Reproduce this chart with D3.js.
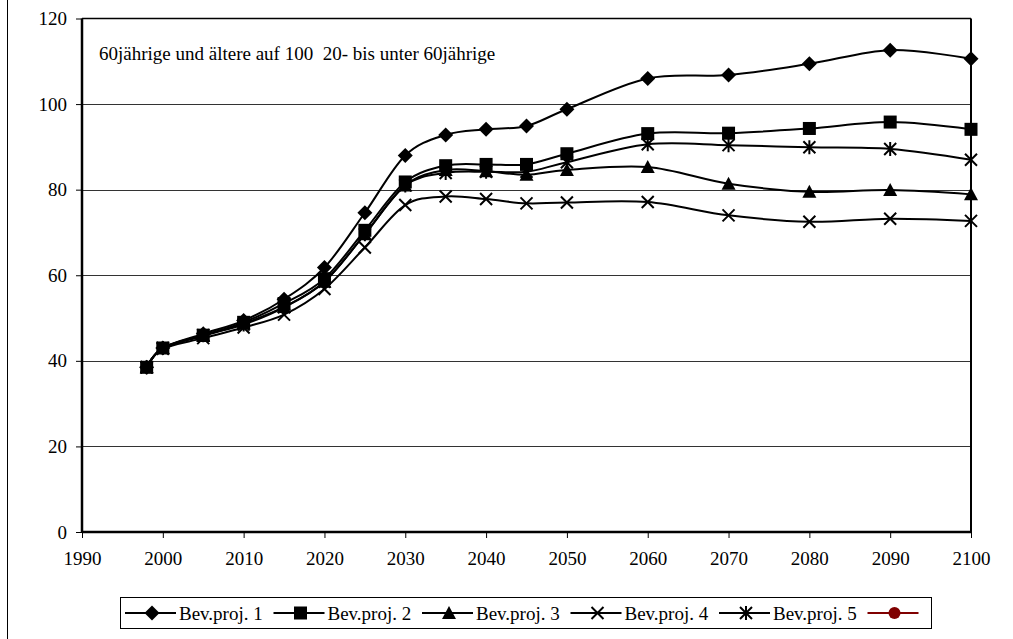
<!DOCTYPE html>
<html>
<head>
<meta charset="utf-8">
<script src="https://cdn.jsdelivr.net/npm/d3@7"></script>
<style>
  body { margin: 0; background: #fff; }
  text { font-family: "Liberation Serif", "Times New Roman", serif; fill: #000; }
</style>
</head>
<body>
<svg id="chart" width="1013" height="639"></svg>
<script>
const years = [1998, 2000, 2005, 2010, 2015, 2020, 2025, 2030, 2035, 2040, 2045, 2050, 2060, 2070, 2080, 2090, 2100];
const proj1 = [38.5, 43.0, 46.3, 49.4, 54.4, 61.8, 74.6, 88.0, 92.8, 94.1, 94.9, 98.8, 106.0, 106.8, 109.4, 112.6, 110.6];
const proj2 = [38.5, 43.0, 46.0, 49.0, 53.4, 59.2, 70.5, 81.8, 85.6, 85.9, 85.9, 88.4, 93.1, 93.2, 94.3, 95.8, 94.1];
const proj3 = [38.5, 43.0, 45.8, 48.7, 52.6, 58.5, 69.6, 81.0, 84.6, 84.3, 83.5, 84.6, 85.3, 81.4, 79.5, 79.9, 78.9];
const proj4 = [38.5, 42.8, 45.3, 47.8, 50.8, 56.8, 66.5, 76.4, 78.4, 77.8, 76.8, 77.0, 77.1, 74.0, 72.5, 73.2, 72.7];
const proj5 = [38.5, 43.0, 46.0, 48.5, 52.5, 58.5, 69.6, 81.0, 83.9, 84.2, 84.2, 86.4, 90.6, 90.4, 89.9, 89.5, 87.0];
const seriesNames = ["Bev.proj. 1", "Bev.proj. 2", "Bev.proj. 3", "Bev.proj. 4", "Bev.proj. 5", ""];
const xTicks = [1990, 2000, 2010, 2020, 2030, 2040, 2050, 2060, 2070, 2080, 2090, 2100];
const yTicks = [0, 20, 40, 60, 80, 100, 120];
const title = "60jährige und ältere auf 100  20- bis unter 60jährige";

const series = [proj1, proj2, proj3, proj4, proj5, []];
const markers = ["diamond", "square", "triangle", "cross", "asterisk", "circle"];
const colors = ["#000", "#000", "#000", "#000", "#000", "#800000"];

const svg = d3.select("#chart");
const plot = { left: 82, right: 971, top: 18.5, bottom: 532 };

const x = d3.scaleLinear().domain([1990, 2100]).range([plot.left, plot.right]);
const y = d3.scaleLinear().domain([0, 120]).range([plot.bottom, plot.top]);

// outer chart border (only the left edge shows)
svg.append("line").attr("x1", 7.5).attr("x2", 7.5).attr("y1", 0).attr("y2", 639)
  .attr("stroke", "#000").attr("stroke-width", 1);

// gridlines
svg.append("g").selectAll("line").data(yTicks.filter(d => d > 0 && d < 120)).join("line")
  .attr("x1", plot.left).attr("x2", plot.right)
  .attr("y1", d => Math.round(y(d)) + 0.5).attr("y2", d => Math.round(y(d)) + 0.5)
  .attr("stroke", "#333").attr("stroke-width", 1);

// frame top / right
svg.append("line").attr("x1", plot.left).attr("x2", plot.right).attr("y1", plot.top).attr("y2", plot.top)
  .attr("stroke", "#000").attr("stroke-width", 1.5);
svg.append("line").attr("x1", plot.right).attr("x2", plot.right).attr("y1", plot.top).attr("y2", plot.bottom)
  .attr("stroke", "#000").attr("stroke-width", 2);

// axes
const xAxis = d3.axisBottom(x).tickValues(xTicks).tickFormat(d3.format("d")).tickSize(6).tickPadding(14);
const yAxis = d3.axisLeft(y).tickValues(yTicks).tickSize(6).tickPadding(9);

const gx = svg.append("g").attr("transform", `translate(0,${plot.bottom})`).call(xAxis);
const gy = svg.append("g").attr("transform", `translate(${plot.left},0)`).call(yAxis);
[gx, gy].forEach(g => {
  g.select(".domain").attr("stroke", "#000").attr("stroke-width", 2.5);
  g.selectAll(".tick line").attr("stroke", "#000").attr("stroke-width", 1);
  g.selectAll(".tick text").style("font-family", "Liberation Serif").style("font-size", "19px").attr("fill", "#000");
});
gx.select(".domain").attr("d", `M${plot.left},0H${plot.right}`);
gy.select(".domain").attr("d", `M0,${plot.bottom}V${plot.top}`);

// title inside plot
svg.append("text").attr("x", 99).attr("y", 60)
  .style("font-size", "19px").style("white-space", "pre").text(title);

// marker drawing
function drawMarker(g, type, color) {
  if (type === "diamond") {
    g.append("path").attr("d", "M0,-7.5L7.5,0L0,7.5L-7.5,0Z").attr("fill", color);
  } else if (type === "square") {
    g.append("rect").attr("x", -6.5).attr("y", -6.5).attr("width", 13).attr("height", 13).attr("fill", color);
  } else if (type === "triangle") {
    g.append("path").attr("d", "M0,-7L7,6L-7,6Z").attr("fill", color);
  } else if (type === "cross") {
    g.append("path").attr("d", "M-6,-6L6,6M-6,6L6,-6").attr("stroke", color).attr("stroke-width", 2);
  } else if (type === "asterisk") {
    g.append("path").attr("d", "M-6,-6L6,6M-6,6L6,-6M0,-7L0,7").attr("stroke", color).attr("stroke-width", 2);
  } else if (type === "circle") {
    g.append("circle").attr("r", 6).attr("fill", color);
  }
}

const line = d3.line()
  .x((d, i) => x(years[i]))
  .y(d => y(d))
  .curve(d3.curveCardinal.tension(0));

series.forEach((vals, s) => {
  if (!vals.length) return;
  const g = svg.append("g");
  g.append("path").attr("d", line(vals)).attr("fill", "none")
    .attr("stroke", colors[s]).attr("stroke-width", 2);
  vals.forEach((v, i) => {
    const m = g.append("g").attr("transform", `translate(${x(years[i])},${y(v)})`);
    drawMarker(m, markers[s], colors[s]);
  });
});

// legend
const legend = svg.append("g");
legend.append("rect").attr("x", 120.5).attr("y", 597.5).attr("width", 811).attr("height", 31)
  .attr("fill", "#fff").attr("stroke", "#000").attr("stroke-width", 1);
const pitch = 148.5;
seriesNames.forEach((name, s) => {
  const cx = 152 + s * pitch;
  const item = legend.append("g").attr("transform", `translate(${cx},613)`);
  item.append("line").attr("x1", -27).attr("x2", 24).attr("y1", 0).attr("y2", 0)
    .attr("stroke", colors[s]).attr("stroke-width", 2);
  drawMarker(item, markers[s], colors[s]);
  if (name) {
    item.append("text").attr("x", 27).attr("y", 6.5).style("font-size", "19px").text(name);
  }
});
</script>
</body>
</html>
